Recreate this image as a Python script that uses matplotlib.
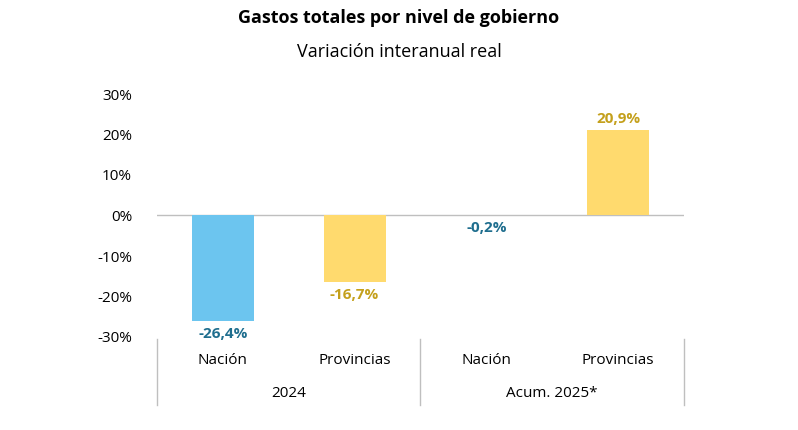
import matplotlib
matplotlib.use("Agg")
import matplotlib.pyplot as plt

categories = ["Nación", "Provincias", "Nación", "Provincias"]
groups = ["2024", "Acum. 2025*"]
values = [-26.4, -16.7, -0.2, 20.9]
labels = ["-26,4%", "-16,7%", "-0,2%", "20,9%"]
bar_colors = ["#6CC5EF", "#FFDA6E", "#6CC5EF", "#FFDA6E"]
text_colors = ["#1F6E8E", "#C4A01C", "#1F6E8E", "#C4A01C"]
yticks = [-30, -20, -10, 0, 10, 20, 30]

plt.rcParams['font.family'] = ['Open Sans', 'DejaVu Sans']
fig = plt.figure(figsize=(7.98, 4.31), dpi=100)
ax = fig.add_axes([157/798, 1-337/431, (684-157)/798, (337-94)/431])
x = range(len(values))
ax.bar(x, values, width=0.47, color=bar_colors, zorder=2)
ax.set_xlim(-0.5, 3.5)
ax.set_ylim(-30, 30)
ax.axhline(0, color="#BFBFBF", lw=1, zorder=1)
ax.set_yticks(yticks)
ax.set_yticklabels([f"{t}%" for t in yticks], fontsize=11)
ax.tick_params(axis='y', length=0, pad=18)
ax.set_xticks([])
for s in ax.spines.values():
    s.set_visible(False)
for i, (v, l, c) in enumerate(zip(values, labels, text_colors)):
    if v >= 0:
        ax.text(i, v + 1.2, l, ha='center', va='bottom', color=c, fontsize=11, fontweight='bold')
    else:
        ax.text(i, v - 1.2, l, ha='center', va='top', color=c, fontsize=11, fontweight='bold')
for i, cat in enumerate(categories):
    fig.text((157 + 131.75*(i+0.5))/798, 1-361/431, cat, ha='center', va='center', fontsize=11)
for j, g in enumerate(groups):
    fig.text((157 + 263.5*(j+0.5))/798, 1-394/431, g, ha='center', va='center', fontsize=11)
for xp in [157, 420.5, 684]:
    fig.add_artist(plt.Line2D([xp/798, xp/798], [1-340/431, 1-406/431], color="#BFBFBF", lw=1))
fig.text(0.5, 1-18/431, "Gastos totales por nivel de gobierno", ha='center', va='center', fontsize=13, fontweight='bold')
fig.text(0.5, 1-52/431, "Variación interanual real", ha='center', va='center', fontsize=13)
fig.savefig("out.png", dpi=100)
